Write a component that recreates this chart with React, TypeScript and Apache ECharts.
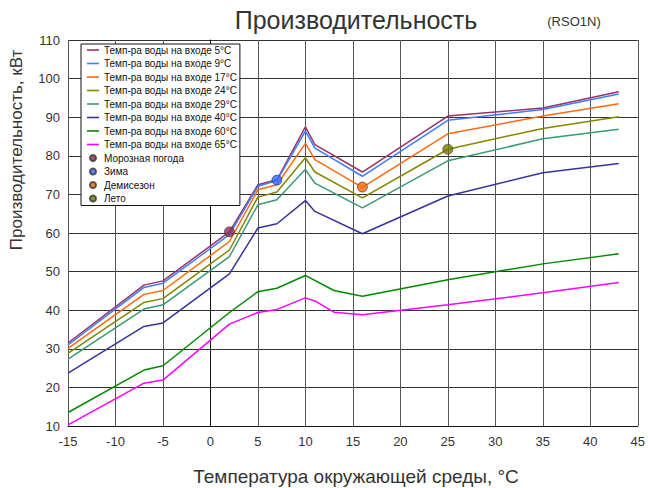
import React, { useEffect, useRef } from "react";
import * as echarts from "echarts";

const FONT = "'Liberation Sans', Arial, sans-serif";

const seriesNames = [
  "Темп-ра воды на входе 5°C",
  "Темп-ра воды на входе 9°C",
  "Темп-ра воды на входе 17°C",
  "Темп-ра воды на входе 24°C",
  "Темп-ра воды на входе 29°C",
  "Темп-ра воды на входе 40°C",
  "Темп-ра воды на входе 60°C",
  "Темп-ра воды на входе 65°C",
];
const seriesColors = ["#993366", "#3f7cff", "#ff6a10", "#858500", "#3a9a70", "#34349a", "#008a00", "#ff00ff"];

const xMain = [-15, -7, -5, 2, 5, 7, 10, 11, 16, 25, 35, 43];
const x60 = [-15, -7, -5, 2, 5, 7, 10, 13, 16, 25, 35, 43];
const x65 = [-15, -7, -5, 2, 5, 7, 10, 11, 13, 16, 25, 35, 43];

const w5 = [31.5, 46.5, 47.6, 60.3, 72.5, 73.8, 87.5, 82.9, 75.8, 90.3, 92.4, 96.6];
const w9 = [31.0, 45.9, 47.0, 59.6, 72.1, 73.6, 86.4, 82.0, 74.7, 89.2, 92.0, 96.0];
const w17 = [30.1, 44.1, 45.1, 57.8, 71.2, 72.5, 83.2, 79.0, 71.8, 85.7, 90.3, 93.5];
const w24 = [28.8, 42.0, 43.0, 55.6, 69.3, 70.6, 79.5, 75.8, 69.1, 81.7, 87.1, 90.1];
const w29 = [27.3, 40.3, 41.4, 53.9, 67.3, 68.6, 76.5, 72.9, 66.5, 78.7, 84.4, 86.9];
const w40 = [23.7, 35.8, 36.7, 49.4, 61.3, 62.4, 68.4, 65.6, 59.8, 69.6, 75.6, 78.0];
const w60 = [13.5, 24.5, 25.6, 39.4, 44.8, 45.7, 49.0, 45.1, 43.6, 47.9, 52.0, 54.6];
const w65 = [10.3, 21.1, 21.9, 36.4, 39.4, 40.2, 43.2, 42.4, 39.5, 38.8, 41.4, 44.5, 47.2];

const seriesX = [xMain, xMain, xMain, xMain, xMain, xMain, x60, x65];
const seriesY = [w5, w9, w17, w24, w29, w40, w60, w65];

const markerNames = ["Морозная погода", "Зима", "Демисезон", "Лето"];
const markerColors = ["#8b2f5e", "#3366ff", "#ff6600", "#7a7a00"];
const markerX = [2, 7, 16, 25];
const markerY = [60.3, 73.7, 71.9, 81.7];

const LINE_ICON = "path://M0,0L12,0L12,1.6L0,1.6Z";

export default function App() {
  const ref = useRef<HTMLDivElement>(null);
  useEffect(() => {
    if (!ref.current) return;
    const chart = echarts.init(ref.current, null, { renderer: "svg" });
    const lineSeries = seriesNames.map((name, i) => ({
      name,
      type: "line",
      data: seriesX[i].map((x, j) => [x, seriesY[i][j]]),
      symbol: "none",
      lineStyle: { color: seriesColors[i], width: 1.5 },
      itemStyle: { color: seriesColors[i] },
      z: 3,
    }));
    const markerSeries = markerNames.map((name, i) => ({
      name,
      type: "scatter",
      data: [[markerX[i], markerY[i]]],
      symbol: "circle",
      symbolSize: 10,
      itemStyle: { color: markerColors[i], borderColor: "#333", borderWidth: 0.8 },
      z: 5,
    }));
    chart.setOption({
      animation: false,
      backgroundColor: "#fff",
      textStyle: { fontFamily: FONT },
      grid: { left: 68, right: 4, top: 40, bottom: 62, containLabel: false },
      xAxis: {
        type: "value",
        min: -15,
        max: 45,
        interval: 5,
        axisLine: { show: true, lineStyle: { color: "#111", width: 1 } },
        axisTick: { show: false },
        axisLabel: { color: "#333", fontSize: 13, margin: 9, fontFamily: FONT },
        splitLine: { show: true, lineStyle: { color: "#555", width: 1 } },
      },
      yAxis: {
        type: "value",
        min: 10,
        max: 110,
        interval: 10,
        axisLine: { show: true, lineStyle: { color: "#111", width: 1 } },
        axisTick: { show: false },
        axisLabel: { color: "#333", fontSize: 13, margin: 8, fontFamily: FONT },
        splitLine: { show: true, lineStyle: { color: "#333", width: 1 } },
      },
      legend: {
        orient: "vertical",
        left: 81,
        top: 44,
        padding: [0, 3, 1, 6],
        itemWidth: 12,
        itemHeight: 6,
        itemGap: 1.5,
        symbolKeepAspect: true,
        backgroundColor: "#fff",
        borderColor: "#111",
        borderWidth: 1,
        borderRadius: 0,
        textStyle: { fontSize: 10, lineHeight: 12, color: "#111", fontFamily: FONT },
        data: [
          ...seriesNames.map((name) => ({ name, icon: LINE_ICON, itemStyle: { borderWidth: 0 } })),
          ...markerNames.map((name) => ({ name, icon: "circle" })),
        ],
      },
      graphic: [
        {
          type: "text",
          x: 356,
          y: 20,
          style: {
            text: "Производительность",
            fontSize: 25,
            fontFamily: FONT,
            fill: "#333",
            textAlign: "center",
            textVerticalAlign: "middle",
          },
        },
        {
          type: "text",
          x: 574,
          y: 21,
          style: {
            text: "(RSO1N)",
            fontSize: 13,
            fontFamily: FONT,
            fill: "#333",
            textAlign: "center",
            textVerticalAlign: "middle",
          },
        },
        {
          type: "text",
          x: 16,
          y: 150,
          rotation: Math.PI / 2,
          style: {
            text: "Производительность, кВт",
            fontSize: 17,
            fontFamily: FONT,
            fill: "#333",
            textAlign: "center",
            textVerticalAlign: "middle",
          },
        },
        {
          type: "text",
          x: 356,
          y: 476,
          style: {
            text: "Температура окружающей среды, °C",
            fontSize: 19,
            fontFamily: FONT,
            fill: "#333",
            textAlign: "center",
            textVerticalAlign: "middle",
          },
        },
      ],
      series: [...lineSeries, ...markerSeries],
    });
    return () => chart.dispose();
  }, []);
  return <div ref={ref} style={{ width: 648, height: 488, position: "absolute", left: 0, top: 0 }} />;
}
